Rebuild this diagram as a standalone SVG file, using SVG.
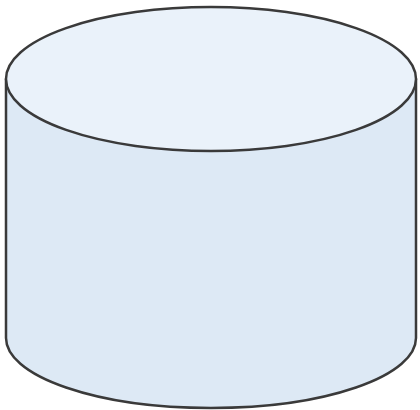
<svg xmlns="http://www.w3.org/2000/svg" width="420" height="410" viewBox="0 0 420 410">
<style>
.s{stroke:#3a3a3a;stroke-width:2.5;stroke-linejoin:round}
</style>
<rect width="420" height="410" fill="#ffffff"/>
<g id="cylinder">
<path class="s" d="M6,79 V338 A205,70 0 0 0 416,338 V79 Z" fill="#dde9f5"/>
<ellipse class="s" cx="211" cy="79" rx="205" ry="72" fill="#eaf2fa"/>
</g>
</svg>
